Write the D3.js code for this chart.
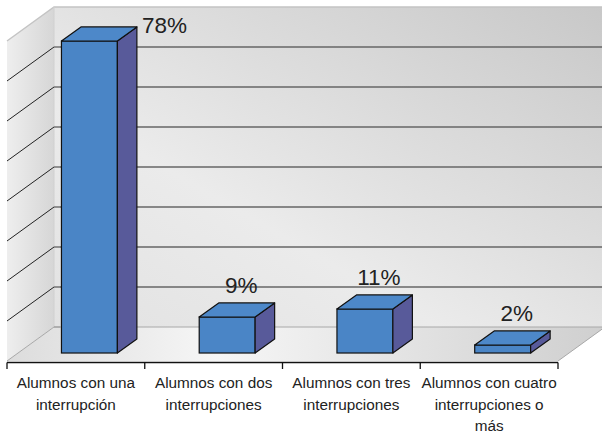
<!DOCTYPE html>
<html>
<head>
<meta charset="utf-8">
<script src="https://cdn.jsdelivr.net/npm/d3@7"></script>
<style>
  body { margin: 0; background: #fff; }
  svg { display: block; font-family: "Liberation Sans", Arial, sans-serif; }
</style>
</head>
<body>
<div class="canvas"></div>
<script>
// chart data
const categories = [
    "Alumnos con una interrupción",
    "Alumnos con dos interrupciones",
    "Alumnos con tres interrupciones",
    "Alumnos con cuatro interrupciones o más"
];
const values = [0.78, 0.09, 0.11, 0.02];
const valueLabels = ["78%", "9%", "11%", "2%"];
const gridTicks = [0, 0.1, 0.2, 0.3, 0.4, 0.5, 0.6, 0.7, 0.8];

const width = 602, height = 434;

const svg = d3.select('.canvas')
    .append('svg')
    .attr('width', width)
    .attr('height', height);

// front plane of the floor + 3d depth offset
const front = { left: 7, right: 558, bottom: 361 };
const depth = { dx: 47, dy: -34 };
// bars sit between these depth fractions
const barDepth = { from: 0.235, to: 0.65 };

const x = d3.scaleBand()
    .domain(categories)
    .range([front.left, front.right]);

const xBar = d3.scaleBand()
    .domain(categories)
    .range([front.left + 2.5, front.right + 2.5])
    .paddingInner(0.594)
    .paddingOuter(0.297);

// y measured on the back wall
const yBack = d3.scaleLinear()
    .domain([0, 0.8])
    .range([front.bottom + depth.dy, front.bottom + depth.dy - 320]);

const h = v => yBack(0) - yBack(v);

const defs = svg.append('defs');

const wallGrad = defs.append('linearGradient')
    .attr('id', 'wallGrad')
    .attr('x1', 0).attr('y1', 1).attr('x2', 1).attr('y2', 0);
wallGrad.append('stop').attr('offset', '0%').attr('stop-color', '#e2e2e2');
wallGrad.append('stop').attr('offset', '35%').attr('stop-color', '#ebebeb');
wallGrad.append('stop').attr('offset', '100%').attr('stop-color', '#c8c8c8');

const sideGrad = defs.append('linearGradient')
    .attr('id', 'sideGrad')
    .attr('x1', 0).attr('y1', 0).attr('x2', 1).attr('y2', 0);
sideGrad.append('stop').attr('offset', '0%').attr('stop-color', '#eeeeee');
sideGrad.append('stop').attr('offset', '100%').attr('stop-color', '#d6d6d6');

const floorGrad = defs.append('linearGradient')
    .attr('id', 'floorGrad')
    .attr('x1', 0).attr('y1', 0).attr('x2', 1).attr('y2', 0);
floorGrad.append('stop').attr('offset', '0%').attr('stop-color', '#dcdcdc');
floorGrad.append('stop').attr('offset', '35%').attr('stop-color', '#f6f6f6');
floorGrad.append('stop').attr('offset', '100%').attr('stop-color', '#cfcfcf');

const pts = arr => arr.map(p => p.join(',')).join(' ');

const backLeft = front.left + depth.dx;
const backRight = front.right + depth.dx;
const yTop = yBack(0.8);

// back wall
svg.append('polygon')
    .attr('points', pts([[backLeft, yTop], [backRight, yTop], [backRight, yBack(0)], [backLeft, yBack(0)]]))
    .attr('fill', 'url(#wallGrad)');

// left wall
svg.append('polygon')
    .attr('points', pts([[front.left, yTop - depth.dy], [backLeft, yTop], [backLeft, yBack(0)], [front.left, front.bottom]]))
    .attr('fill', 'url(#sideGrad)');

// floor
svg.append('polygon')
    .attr('points', pts([[front.left, front.bottom], [backLeft, yBack(0)], [backRight, yBack(0)], [front.right, front.bottom]]))
    .attr('fill', 'url(#floorGrad)');

// wall edges
svg.append('path')
    .attr('d', `M${front.left},${yTop - depth.dy}L${backLeft},${yTop}L${backRight},${yTop}`)
    .attr('fill', 'none')
    .attr('stroke', '#c4c4c4')
    .attr('stroke-width', 1.5);
svg.append('path')
    .attr('d', `M${backLeft},${yTop}L${backLeft},${yBack(0)}`)
    .attr('stroke', '#d0d0d0');
svg.append('path')
    .attr('d', `M${front.left},${front.bottom}L${backLeft},${yBack(0)}L${backRight},${yBack(0)}L${front.right},${front.bottom}`)
    .attr('fill', 'none')
    .attr('stroke', '#a8a8a8');

// gridlines on back wall and left wall
const inner = gridTicks.filter(t => t > 0 && t < 0.8);
svg.append('g').selectAll('line')
    .data(inner)
    .enter()
    .append('line')
    .attr('x1', backLeft)
    .attr('x2', backRight)
    .attr('y1', d => yBack(d))
    .attr('y2', d => yBack(d))
    .attr('stroke', '#666')
    .attr('stroke-width', 1.4);
svg.append('g').selectAll('line')
    .data(inner)
    .enter()
    .append('line')
    .attr('x1', front.left)
    .attr('x2', backLeft)
    .attr('y1', d => yBack(d) - depth.dy)
    .attr('y2', d => yBack(d))
    .attr('stroke', '#222')
    .attr('stroke-width', 1);
// small ticks at the back-left edge
svg.append('g').selectAll('line')
    .data(inner.concat([0]))
    .enter()
    .append('line')
    .attr('x1', backLeft)
    .attr('x2', backLeft + 6)
    .attr('y1', d => yBack(d))
    .attr('y2', d => yBack(d))
    .attr('stroke', '#999');

// bars
const bars = svg.append('g');
categories.forEach((c, i) => {
    const v = values[i];
    const fx = xBar(c) + barDepth.from * depth.dx;
    const fy = front.bottom + barDepth.from * depth.dy;
    const w = xBar.bandwidth();
    const ddx = (barDepth.to - barDepth.from) * depth.dx;
    const ddy = (barDepth.to - barDepth.from) * depth.dy;
    const top = fy - h(v);
    // front
    bars.append('rect')
        .attr('x', fx).attr('y', top)
        .attr('width', w).attr('height', h(v))
        .attr('fill', '#4a85c6')
        .attr('stroke', '#111').attr('stroke-width', 1.2);
    // side
    bars.append('polygon')
        .attr('points', pts([[fx + w, top], [fx + w + ddx, top + ddy], [fx + w + ddx, fy + ddy], [fx + w, fy]]))
        .attr('fill', '#585a9a')
        .attr('stroke', '#111').attr('stroke-width', 1.2)
        .attr('stroke-linejoin', 'round');
    // top
    bars.append('polygon')
        .attr('points', pts([[fx, top], [fx + ddx, top + ddy], [fx + w + ddx, top + ddy], [fx + w, top]]))
        .attr('fill', '#4d88c9')
        .attr('stroke', '#111').attr('stroke-width', 1.2)
        .attr('stroke-linejoin', 'round');

    // value label
    let lx = fx + w / 2 + 14;
    let ly = top - 24;
    let anchor = 'middle';
    if (ly - 16 < yTop) {
        // no room above, put it beside the bar top
        lx = fx + w + ddx + 5;
        ly = top + ddy + 6;
        anchor = 'start';
    }
    bars.append('text')
        .attr('x', lx).attr('y', ly)
        .attr('text-anchor', anchor)
        .attr('font-size', '22.5px')
        .attr('fill', '#222')
        .text(valueLabels[i]);
});

// x axis along the front edge
const xAxisGroup = svg.append('g');
xAxisGroup.append('line')
    .attr('x1', front.left).attr('x2', front.right)
    .attr('y1', front.bottom + 1.5).attr('y2', front.bottom + 1.5)
    .attr('stroke', '#111').attr('stroke-width', 1.3);
const tickPos = categories.map(c => x(c)).concat([front.right]);
xAxisGroup.selectAll('.tick')
    .data(tickPos)
    .enter()
    .append('line')
    .attr('x1', d => d).attr('x2', d => d)
    .attr('y1', front.bottom + 1.5).attr('y2', front.bottom + 8)
    .attr('stroke', '#111').attr('stroke-width', 1.3);

// category labels, wrapped to the band width
function wrap(textSel, maxWidth) {
    textSel.each(function (d) {
        const text = d3.select(this);
        const words = d.split(' ');
        const cx = text.attr('x');
        text.text(null);
        let line = [];
        let tspan = text.append('tspan').attr('x', cx).attr('dy', 0);
        words.forEach(word => {
            line.push(word);
            tspan.text(line.join(' '));
            if (tspan.node().getComputedTextLength() > maxWidth && line.length > 1) {
                line.pop();
                tspan.text(line.join(' '));
                line = [word];
                tspan = text.append('tspan').attr('x', cx).attr('dy', 21.5).text(word);
            }
        });
    });
}

xAxisGroup.selectAll('.cat')
    .data(categories)
    .enter()
    .append('text')
    .attr('class', 'cat')
    .attr('x', d => x(d) + x.bandwidth() / 2)
    .attr('y', 388)
    .attr('text-anchor', 'middle')
    .attr('font-size', '15.3px')
    .attr('fill', '#222')
    .call(wrap, x.bandwidth() + 1);
</script>
</body>
</html>
